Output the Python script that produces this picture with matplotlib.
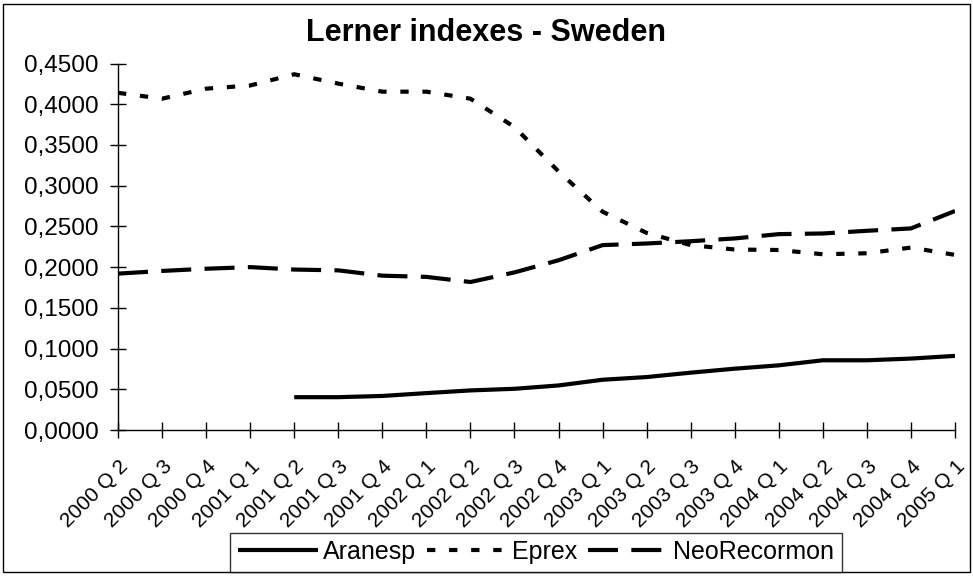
import matplotlib.pyplot as plt
import matplotlib.transforms as mtransforms
import numpy as np
from matplotlib.patches import Rectangle
from matplotlib.ticker import FuncFormatter

plt.rcParams['font.family'] = ['Liberation Sans', 'DejaVu Sans']

quarters = ['2000 Q 2', '2000 Q 3', '2000 Q 4', '2001 Q 1', '2001 Q 2', '2001 Q 3',
            '2001 Q 4', '2002 Q 1', '2002 Q 2', '2002 Q 3', '2002 Q 4', '2003 Q 1',
            '2003 Q 2', '2003 Q 3', '2003 Q 4', '2004 Q 1', '2004 Q 2', '2004 Q 3',
            '2004 Q 4', '2005 Q 1']

# Aranesp starts in 2001 Q2
aranesp = [np.nan, np.nan, np.nan, np.nan, 0.0403, 0.0403, 0.0418, 0.0453, 0.0486, 0.0506,
           0.0547, 0.0617, 0.0650, 0.0704, 0.0753, 0.0794, 0.0856, 0.0856, 0.0877, 0.0910]
eprex = [0.4140, 0.4068, 0.4191, 0.4230, 0.4368, 0.4253, 0.4154, 0.4154, 0.4068, 0.3720,
         0.3175, 0.2680, 0.2420, 0.2270, 0.2216, 0.2210, 0.2158, 0.2170, 0.2240, 0.2150]
neorecormon = [0.1920, 0.1953, 0.1980, 0.2000, 0.1970, 0.1960, 0.1895, 0.1880, 0.1817, 0.1935,
               0.2084, 0.2270, 0.2290, 0.2318, 0.2352, 0.2405, 0.2413, 0.2446, 0.2475, 0.2689]

fig = plt.figure(figsize=(9.73, 5.76), dpi=100)
# thin frame around the whole chart area
fig.patches.append(Rectangle((3 / 973, 4 / 576), 967 / 973, 568 / 576, transform=fig.transFigure,
                             fill=False, edgecolor='black', lw=1))

ax = fig.add_axes([118 / 973, 1 - 430 / 576, 837 / 973, (430 - 63.5) / 576])
x = np.arange(len(quarters))

ax.plot(x, aranesp, color='black', lw=3, solid_capstyle='butt', label='Aranesp')
ax.plot(x, eprex, color='black', lw=3, dashes=(2, 3.3), label='Eprex')
ax.plot(x, neorecormon, color='black', lw=3, dashes=(7.2, 3.2), label='NeoRecormon')

ax.set_xlim(0, len(quarters) - 1)
ax.set_ylim(0, 0.45)
ax.set_yticks(np.arange(0, 0.4501, 0.05))
ax.yaxis.set_major_formatter(FuncFormatter(lambda v, p: ('%.4f' % v).replace('.', ',')))
ax.set_xticks(x)
ax.set_xticklabels(quarters, rotation=45, ha='right', va='top', rotation_mode='anchor',
                   fontsize=15)
shift = mtransforms.ScaledTranslation(-5 / 100, 0, fig.dpi_scale_trans)
for lbl in ax.get_xticklabels():
    lbl.set_transform(lbl.get_transform() + shift)
ax.tick_params(axis='y', direction='inout', length=11, width=1, labelsize=17.5, pad=8.5)
ax.tick_params(axis='x', direction='inout', length=11, width=1, pad=14)
ax.spines['top'].set_visible(False)
ax.spines['right'].set_visible(False)
ax.spines['left'].set_linewidth(1)
ax.spines['bottom'].set_linewidth(1)

fig.text(0.5, 1 - 33 / 576, 'Lerner indexes - Sweden', ha='center', va='center',
         fontsize=22, fontweight='bold')

leg = fig.legend(loc='center', bbox_to_anchor=(536 / 973, 1 - 552 / 576), ncol=3,
                 fontsize=18, frameon=True, fancybox=False, edgecolor='black',
                 handlelength=3.2, handletextpad=0.2, columnspacing=0.45,
                 borderpad=0.3, borderaxespad=0)
leg.get_frame().set_linewidth(1)

fig.savefig('out.png', dpi=100)
